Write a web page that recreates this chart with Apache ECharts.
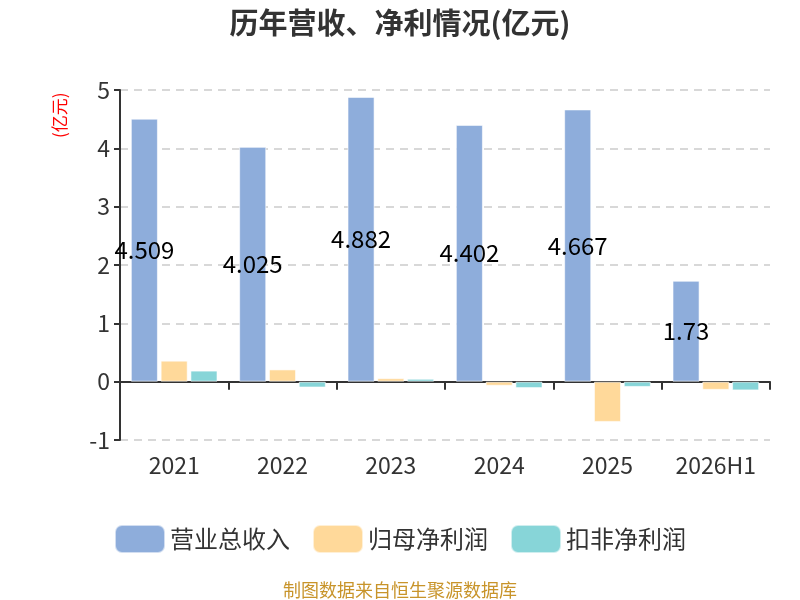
<!DOCTYPE html>
<html>
<head>
<meta charset="utf-8">
<script src="https://cdn.jsdelivr.net/npm/echarts@6/dist/echarts.min.js"></script>
<style>
html, body { margin: 0; padding: 0; background: #fff; }
#main { width: 800px; height: 600px; }
</style>
</head>
<body>
<div id="main"></div>
<script>
var years = ['2021', '2022', '2023', '2024', '2025', '2026H1'];
var revenue = [4.509, 4.025, 4.882, 4.402, 4.667, 1.73];
var netProfit = [0.36, 0.21, 0.06, -0.07, -0.69, -0.14];
var deductedProfit = [0.19, -0.10, 0.05, -0.11, -0.09, -0.15];
var yTicks = [-1, 0, 1, 2, 3, 4, 5];

var chart = echarts.init(document.getElementById('main'), null, { renderer: 'canvas' });

var font = '"Noto Sans CJK SC", "Noto Sans", sans-serif';

function barStyle(c) {
    return { color: c, borderColor: 'rgba(255,255,255,0.6)', borderWidth: 1 };
}

var option = {
    animation: false,
    textStyle: { fontFamily: font },
    title: [
        {
            text: '历年营收、净利情况(亿元)',
            left: 'center',
            top: 3,
            textStyle: { fontSize: 29, fontWeight: 'bold', color: '#333', fontFamily: font }
        },
        {
            text: '制图数据来自恒生聚源数据库',
            left: 'center',
            top: 576,
            textStyle: { fontSize: 18, fontWeight: 'normal', color: '#c8942a', fontFamily: font }
        }
    ],
    legend: {
        top: 519,
        left: 'center',
        itemWidth: 50,
        itemHeight: 28,
        itemGap: 22,
        icon: 'roundRect',
        textStyle: { fontSize: 24, color: '#333', fontFamily: font },
        data: ['营业总收入', '归母净利润', '扣非净利润']
    },
    grid: { left: 120, right: 30, top: 90, bottom: 160 },
    xAxis: {
        type: 'category',
        data: years,
        axisLine: { onZero: true, lineStyle: { color: '#333', width: 2 } },
        axisTick: { show: true, length: 8, lineStyle: { color: '#333', width: 2 } },
        axisLabel: { fontSize: 23, color: '#333', margin: 14 }
    },
    yAxis: {
        type: 'value',
        min: yTicks[0],
        max: yTicks[yTicks.length - 1],
        interval: 1,
        name: '(亿元)',
        nameLocation: 'end',
        nameRotate: 90,
        nameGap: -48,
        nameTextStyle: { color: '#ff0000', fontSize: 17, verticalAlign: 'bottom', padding: [0, 0, 52, 0] },
        axisLine: { show: true, lineStyle: { color: '#333', width: 2 } },
        axisTick: { show: true, length: 6, lineStyle: { color: '#333', width: 2 } },
        axisLabel: { fontSize: 23, color: '#333', margin: 10 },
        splitLine: { lineStyle: { color: '#ccc', type: [8, 6], width: 1.5 } }
    },
    series: [
        {
            name: '营业总收入',
            type: 'bar',
            data: revenue,
            barGap: '10%',
            barCategoryGap: '20%',
            itemStyle: barStyle('#8eaddb'),
            label: { show: true, position: 'inside', color: '#000', fontSize: 24, fontFamily: font }
        },
        {
            name: '归母净利润',
            type: 'bar',
            data: netProfit,
            itemStyle: barStyle('#ffd99a')
        },
        {
            name: '扣非净利润',
            type: 'bar',
            data: deductedProfit,
            itemStyle: barStyle('#87d5d8')
        }
    ]
};

chart.setOption(option);
</script>
</body>
</html>
